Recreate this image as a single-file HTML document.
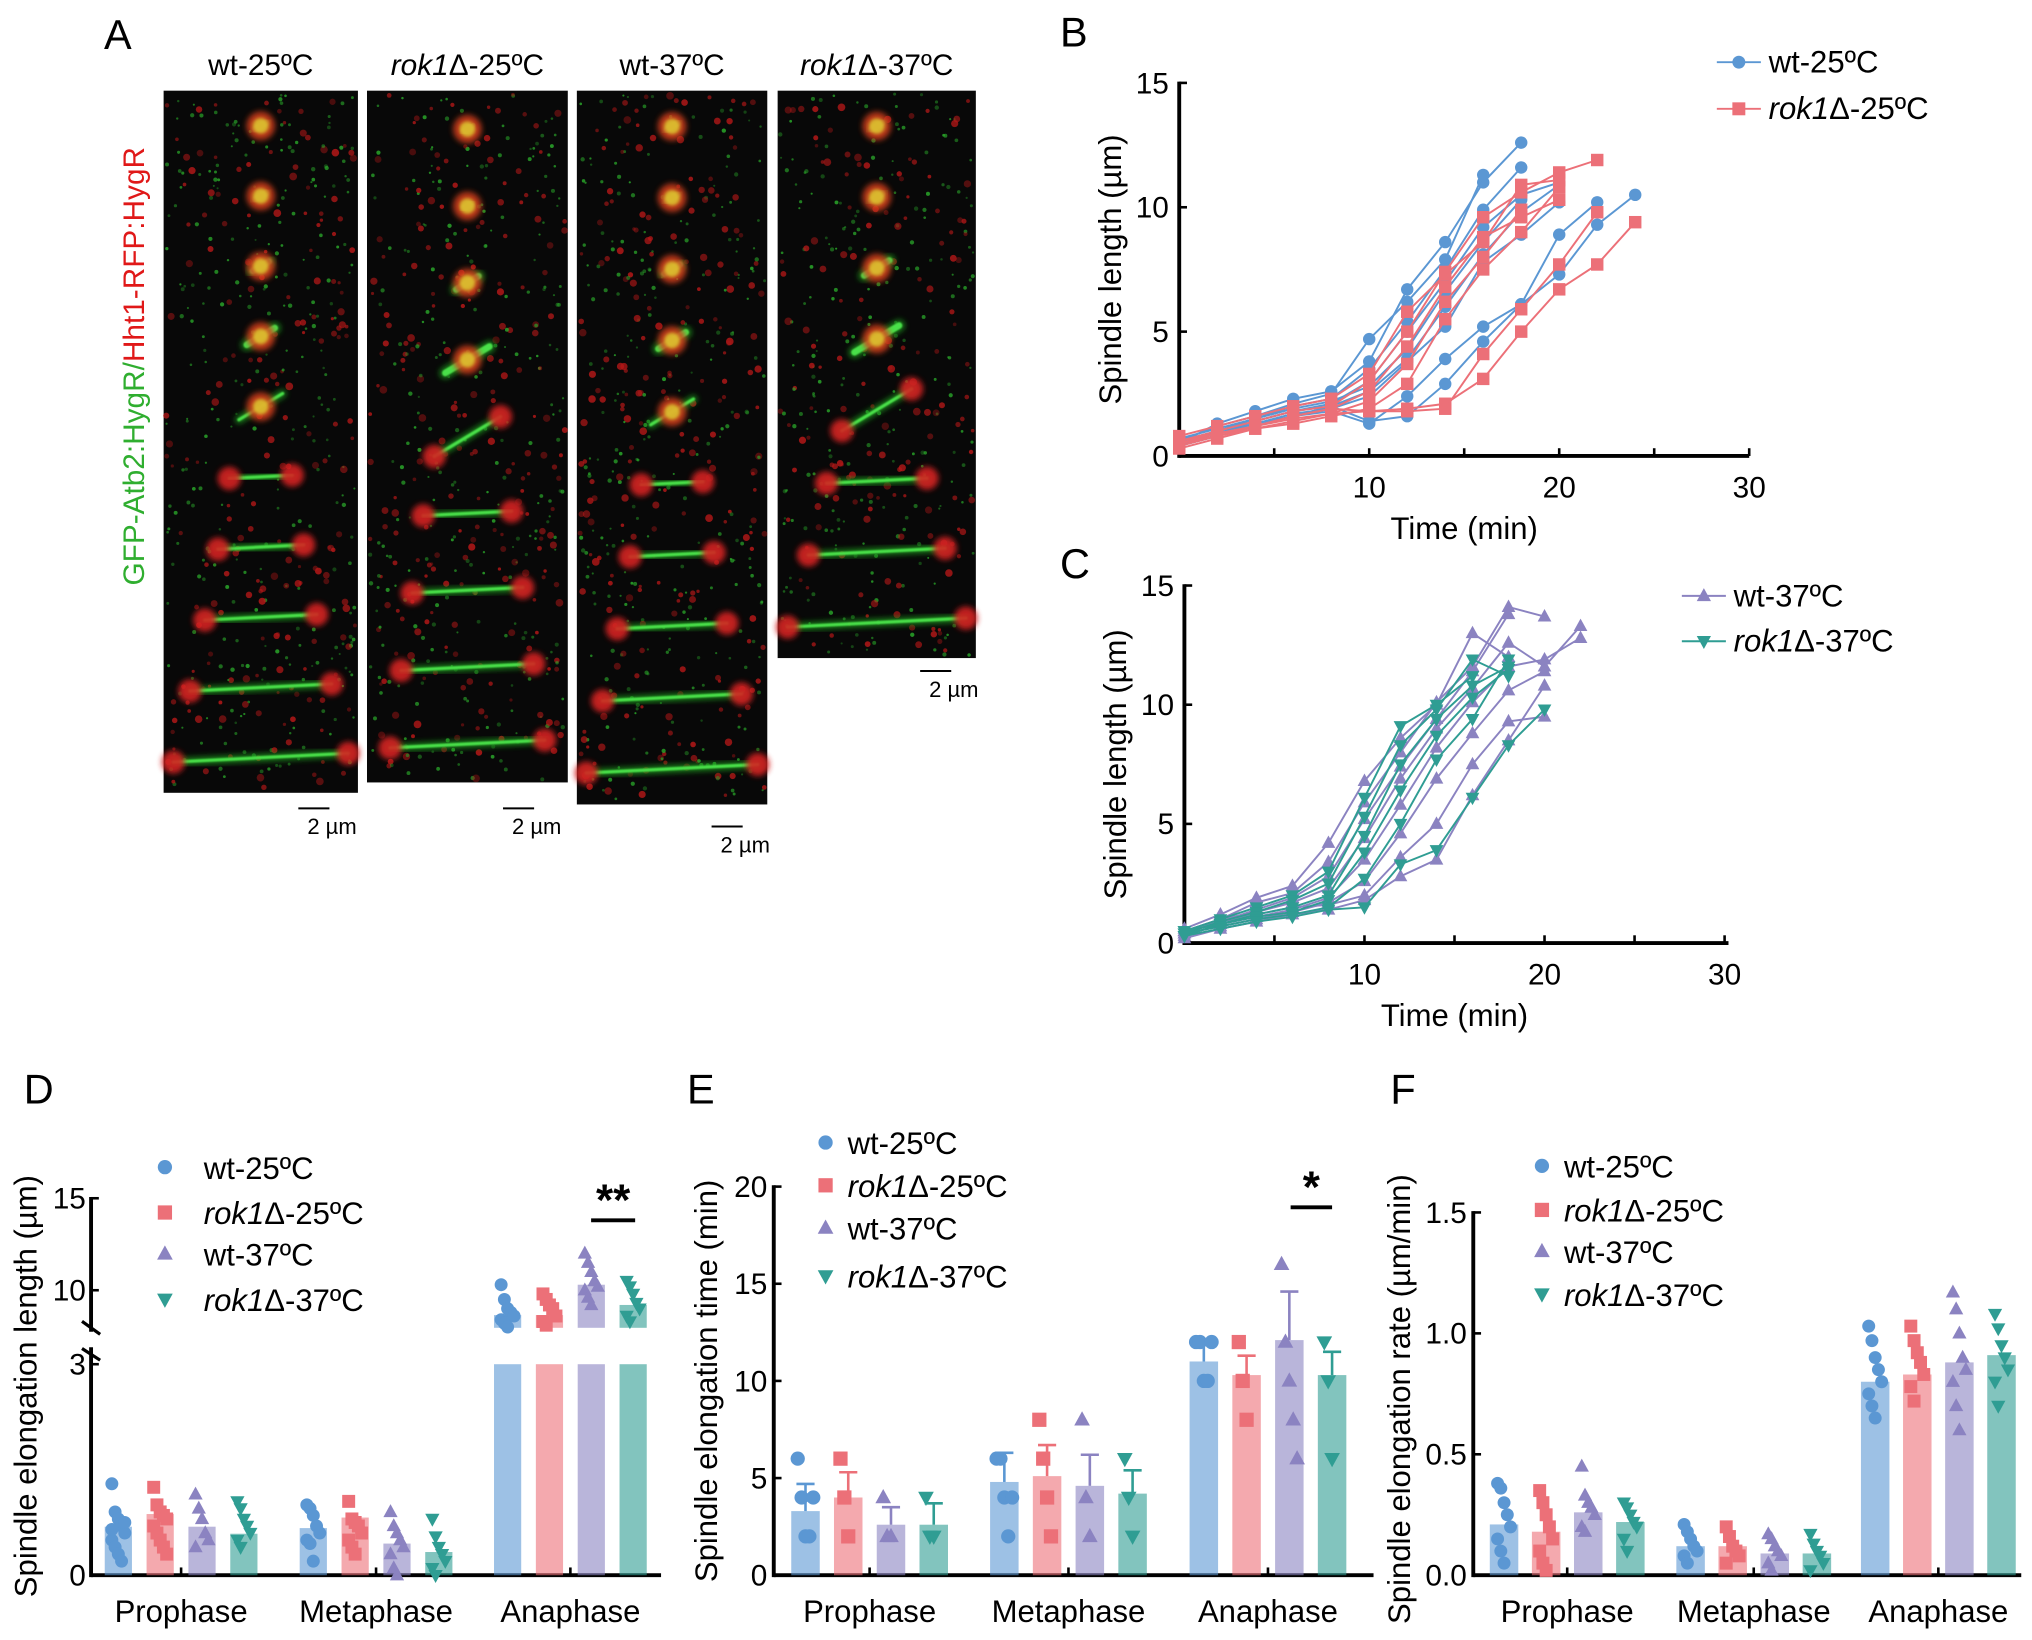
<!DOCTYPE html>
<html><head><meta charset="utf-8"><style>
html,body{margin:0;padding:0;background:#fff}
svg{display:block;font-family:"Liberation Sans",Arial,sans-serif}
</style></head><body>
<svg id="fig" xmlns="http://www.w3.org/2000/svg" width="2032" height="1640" viewBox="0 0 1568 1266">
<defs><filter id="blur" x="-50%" y="-50%" width="200%" height="200%"><feGaussianBlur stdDeviation="2.2"/></filter>
<filter id="blur2" x="-50%" y="-50%" width="200%" height="200%"><feGaussianBlur stdDeviation="1.2"/></filter>
<filter id="blur3" x="-50%" y="-50%" width="200%" height="200%"><feGaussianBlur stdDeviation="0.7"/></filter></defs>
<g id="panelA"></g>
<g id="panelB"></g>
<g id="panelC"></g>
<g id="panelD"></g>
<g id="panelE"></g>
<g id="panelF"></g>
</svg>
<script>
// ---- data ----
const colors=["#5b97d3","#ec7078","#8b83c1","#2f9d93"];
const groupNames=["wt-25ºC","rok1Δ-25ºC","wt-37ºC","rok1Δ-37ºC"];
const phases=["Prophase","Metaphase","Anaphase"];
// B: wt-25 (blue), rok1-25 (red); sampled every 2 min
const bBlue=[[0.5,1.3,1.8,2.3,2.6,3.8,6.7,8.6,11.0,12.6],[0.6,1.2,1.6,2.1,2.5,4.7,6.2,7.9,11.3],[0.4,1.0,1.5,2.0,2.3,3.5,5.4,7.5,9.9,11.6],[0.5,0.9,1.4,1.8,2.1,3.0,5.0,7.0,9.2,10.5,11.0],[0.7,1.1,1.5,1.9,2.2,2.8,4.3,6.6,8.6,10.3],[0.4,0.8,1.2,1.6,2.0,2.6,3.9,6.0,8.1,9.8,10.9],[0.5,0.9,1.3,1.7,1.9,2.4,3.8,5.2,7.8,8.9,10.2],[0.6,1.0,1.4,1.8,2.0,1.4,1.6,2.9,4.6,6.1,7.3,9.3,10.5],[0.5,0.9,1.3,1.6,1.8,1.3,2.4,3.9,5.2,6.1,8.9,10.2]];
const bRed=[[0.8,1.2,1.6,2.0,2.3,3.3,5.8,7.3,8.6,10.9,11.1],[0.6,1.0,1.4,1.8,2.0,3.0,5.0,7.4,9.6,10.6,11.4,11.9],[0.4,0.8,1.2,1.6,1.9,2.6,4.4,6.8,8.8,9.6,10.3],[0.5,0.9,1.2,1.5,1.7,2.2,3.7,6.2,8.0,9.9],[0.3,0.7,1.1,1.3,1.6,1.9,2.9,5.5,7.5,9.0,10.8],[0.5,0.8,1.1,1.4,1.7,1.8,1.9,2.1,3.1,5.0,6.7,7.7,9.4],[0.6,0.9,1.2,1.6,1.9,1.8,1.8,1.9,4.1,5.9,7.7,9.8]];
// C: wt-37 (purple), rok1-37 (teal)
const cPurple=[[0.6,1.2,1.9,2.4,4.2,6.8,8.6,10.0,13.0,12.0],[0.5,1.0,1.7,2.1,3.4,5.9,8.0,10.1,11.6,14.1,13.7],[0.4,0.9,1.4,1.9,2.8,5.2,7.4,9.4,11.4,13.8],[0.5,1.0,1.3,1.7,2.3,4.4,6.9,9.0,10.7,12.6,11.6,13.3],[0.3,0.8,1.1,1.4,1.9,3.5,5.8,8.2,10.1,11.6,11.9,12.8],[0.4,0.7,1.0,1.3,1.7,2.6,4.6,6.9,8.8,10.6,11.4],[0.5,0.9,1.2,1.5,1.6,2.0,3.6,5.0,7.5,9.3,9.5],[0.2,0.6,0.9,1.2,1.4,1.8,2.8,3.5,6.2,8.5,10.8]];
const cTeal=[[0.5,1.0,1.5,2.0,3.0,6.1,9.1,10.0,11.2],[0.4,0.9,1.3,1.8,2.5,5.3,8.3,9.8,11.9,11.2],[0.3,0.8,1.2,1.5,2.0,4.5,7.5,9.4,10.8,11.6],[0.5,0.8,1.1,1.3,1.8,3.8,6.4,8.7,10.3,11.5],[0.4,0.7,1.0,1.2,1.5,2.7,5.0,7.7,9.4,11.9],[0.3,0.6,0.9,1.1,1.4,1.5,3.3,3.9,6.1,8.3,9.8]];
// D means [phase][group]
const dMeans=[[0.69,0.87,0.69,0.59],[0.67,0.82,0.45,0.33],[8.65,8.65,10.3,9.2]];
const dPoints=[[[1.3,0.9,0.8,0.7,0.6,0.5,0.4,0.3,0.2,0.75,0.65],[1.25,1.0,0.9,0.85,0.8,0.7,0.6,0.5,0.4,0.3],[1.15,0.95,0.8,0.6,0.5,0.4],[1.05,0.95,0.8,0.7,0.6,0.5,0.4]],
[[1.0,0.95,0.85,0.7,0.6,0.5,0.45,0.2],[1.05,0.8,0.75,0.7,0.6,0.5,0.4,0.3],[0.9,0.7,0.6,0.5,0.4,0.3,0.1,0.0],[0.8,0.55,0.4,0.3,0.2,0.1,0.0]],
[[10.3,9.5,9.0,8.8,8.6,8.4,8.2,8.0],[9.8,9.5,9.2,9.0,8.6,8.3,8.1],[12.0,11.5,11.0,10.5,10.2,10.0,9.6,9.2],[10.5,10.2,9.8,9.3,9.0,8.6,8.3]]];
// E
const eMeans=[[3.3,4.0,2.6,2.6],[4.8,5.1,4.6,4.2],[11.0,10.3,12.1,10.3]];
const eErr=[[1.4,1.3,0.9,1.1],[1.5,1.6,1.6,1.2],[0.9,1.0,2.5,1.2]];
const ePoints=[[[6,4,2,2,4],[6,4,2],[4,2,2],[4,2,2]],[[6,6,4,2,4],[8,6,4,2],[8,4,2],[6,4,2]],[[12,12,10,10,12],[12,10,8],[16,12,10,8,6],[12,10,6]]];
// F
const fMeans=[[0.21,0.18,0.26,0.22],[0.12,0.12,0.09,0.09],[0.80,0.83,0.88,0.91]];
const fPoints=[[[0.38,0.36,0.30,0.25,0.2,0.15,0.1,0.05],[0.35,0.3,0.25,0.2,0.15,0.1,0.05,0.02],[0.45,0.33,0.3,0.28,0.25,0.2,0.18],[0.3,0.28,0.25,0.22,0.2,0.15,0.1]],
[[0.21,0.18,0.15,0.12,0.1,0.08,0.05],[0.2,0.16,0.12,0.1,0.08,0.05],[0.17,0.15,0.12,0.1,0.08,0.05,0.02],[0.17,0.13,0.1,0.08,0.05,0.02]],
[[1.03,0.97,0.9,0.85,0.8,0.75,0.7,0.65],[1.03,0.97,0.92,0.88,0.83,0.78,0.72],[1.17,1.1,1.0,0.9,0.85,0.8,0.7,0.6],[1.08,1.02,0.95,0.9,0.85,0.8,0.7]]];
const timeTicks=[10,20,30];

const NS="http://www.w3.org/2000/svg";
function mk(parent,tag,attrs,text){const e=document.createElementNS(NS,tag);for(const k in attrs)e.setAttribute(k,attrs[k]);if(text!==undefined)e.textContent=text;parent.appendChild(e);return e;}
function marker(g,shape,x,y,s,color,op){
  let e;
  if(shape===0)e=mk(g,"circle",{cx:x,cy:y,r:s,fill:color});
  else if(shape===1)e=mk(g,"rect",{x:x-s,y:y-s,width:2*s,height:2*s,fill:color});
  else if(shape===2)e=mk(g,"polygon",{points:`${x},${y-s*1.2} ${x-s*1.1},${y+s*0.8} ${x+s*1.1},${y+s*0.8}`,fill:color});
  else e=mk(g,"polygon",{points:`${x},${y+s*1.2} ${x-s*1.1},${y-s*0.8} ${x+s*1.1},${y-s*0.8}`,fill:color});
  if(op)e.setAttribute("opacity",op);
  return e;
}
function legendLabel(g,x,y,name,size){
  const t=mk(g,"text",{x:x,y:y,"font-size":size});
  if(name.startsWith("rok1")){mk(t,"tspan",{"font-style":"italic"},"rok1");mk(t,"tspan",{},name.slice(4));}
  else t.textContent=name;
  return t;
}
// ---- Panel A (decorative micrographs) ----
(function(){
  let seed=12345;
  const rnd=()=>{seed=(seed*1103515245+12345)%2147483648;return seed/2147483648;};
  const g=document.getElementById("panelA");
  const L=mk(g,"text",{x:80,y:38,"font-size":32});L.textContent="A";
  
  
  const vl=mk(g,"text",{transform:"translate(111,452) rotate(-90)","font-size":23});
  mk(vl,"tspan",{fill:"#2fae2f"},"GFP-Atb2:HygR/");mk(vl,"tspan",{fill:"#e01818"},"Hht1-RFP:HygR");
  
  
  const cols=[{x:126,w:150,y:70,h:542,n:10,lab:"wt-25ºC",sb:[242,624]},{x:283,w:155,y:70,h:534,n:9,lab:"rok1Δ-25ºC",sb:[400,624]},{x:445,w:147,y:70,h:551,n:10,lab:"wt-37ºC",sb:[561,638]},{x:600,w:153,y:70,h:438,n:8,lab:"rok1Δ-37ºC",sb:[722,518]}];
  cols.forEach((c,ci)=>{
    const cg=mk(g,"g",{});
    
    
    mk(cg,"rect",{x:c.x,y:c.y,width:c.w,height:c.h,fill:"#080808"});
    // speckle noise
    for(let k=0;k<Math.round(c.h*0.9);k++){
      const px=c.x+2+rnd()*(c.w-4), py=c.y+2+rnd()*(c.h-4);
      const red=rnd()<0.45;
      mk(cg,"circle",{cx:px,cy:py,r:red?1.2+rnd()*1.8:0.8+rnd()*0.9,fill:red?"#b51818":"#2aa82a",opacity:0.35+rnd()*0.5});
    }
    const cx=c.x+c.w/2, rh=c.h/c.n;
    for(let i=0;i<c.n;i++){
      const y=c.y+rh*(i+0.5);
      const frac=(i+1)/c.n;
      const len=ci===1?Math.max(6,(i-1)*c.w*0.11):Math.max(8,frac*frac*c.w*0.9);
      const tilt=(i<5?-0.6:-0.05)*len*0.5;
      mk(cg,"line",{x1:cx-len/2,y1:y-tilt,x2:cx+len/2,y2:y+tilt,stroke:"#1f9a1f","stroke-width":i<4?9:6,filter:"url(#blur)","stroke-linecap":"round",opacity:0.8});
      mk(cg,"line",{x1:cx-len/2,y1:y-tilt,x2:cx+len/2,y2:y+tilt,stroke:"#48e048","stroke-width":i<4?5:2.5,filter:"url(#blur3)","stroke-linecap":"round"});
      if(len<40){mk(cg,"circle",{cx:cx,cy:y,r:11,fill:"#d8401c",filter:"url(#blur)",opacity:0.85});
        mk(cg,"circle",{cx:cx,cy:y,r:6,fill:"#e0d030",filter:"url(#blur2)",opacity:0.8});}
      else{[-1,1].forEach(sg=>{mk(cg,"circle",{cx:cx+sg*len/2,cy:y+sg*tilt,r:9,fill:"#d42020",filter:"url(#blur)",opacity:0.9});});}
    }
    const lab=legendLabel(g,cx,58,c.lab,23);lab.setAttribute("text-anchor","middle");
    
    
    mk(g,"line",{x1:c.sb[0]-12,y1:c.sb[1],x2:c.sb[0]+12,y2:c.sb[1],stroke:"#000","stroke-width":1.5});
    const sb=mk(g,"text",{x:c.sb[0]+14,y:c.sb[1]+20,"font-size":17,"text-anchor":"middle"},"2 µm");
    
    
  });
})();
// ---- Line panels ----
function linePanel(id,letter,lx,ly,ox,oy,xw,yh,axisEnd,series,legY){
  const g=document.getElementById(id);
  const X=t=>ox+t/30*xw, Y=v=>oy-v/15*yh;
  const L=mk(g,"text",{x:lx,y:ly,"font-size":32},letter);
  
  
  const ax=mk(g,"g",{});
  
  
  mk(ax,"line",{x1:ox,y1:oy,x2:axisEnd,y2:oy,stroke:"#000","stroke-width":3});
  mk(ax,"line",{x1:ox,y1:oy+1.5,x2:ox,y2:Y(15)-1,stroke:"#000","stroke-width":3});
  [5,10,15,20,25,30].forEach(t=>mk(ax,"line",{x1:X(t),y1:oy,x2:X(t),y2:oy-6,stroke:"#000","stroke-width":2}));
  [0,5,10,15].forEach(v=>{mk(ax,"line",{x1:ox,y1:Y(v),x2:ox+6,y2:Y(v),stroke:"#000","stroke-width":2});
    const t=mk(ax,"text",{x:ox-8,y:Y(v)+8,"font-size":23,"text-anchor":"end"},v);
    
    });
  timeTicks.forEach(v=>{const t=mk(ax,"text",{x:X(v),y:oy+32,"font-size":23,"text-anchor":"middle"},v);
    
    });
  const xt=mk(ax,"text",{x:(ox+X(30))/2,y:oy+64,"font-size":24,"text-anchor":"middle"},"Time (min)");
  
  
  const yt=mk(ax,"text",{transform:`translate(${ox-45},${Y(7.5)}) rotate(-90)`,"font-size":24,"text-anchor":"middle"},"Spindle length (µm)");
  
  
  series.forEach((s,si)=>{
    const sg=mk(g,"g",{});
    
    
    s.data.forEach(tr=>{
      const pts=tr.map((v,i)=>X(i*2)+","+Y(v)).join(" ");
      const pl=mk(sg,"polyline",{points:pts,fill:"none",stroke:s.color,"stroke-width":1.5});
      
      
      tr.forEach((v,i)=>{const m=marker(sg,s.shape,X(i*2),Y(v),4.8,s.color);
        
        });
    });
    const lg=mk(g,"g",{});
    
    
    const lxx=s.legX;
    mk(lg,"line",{x1:lxx,y1:legY[si],x2:lxx+34,y2:legY[si],stroke:s.color,"stroke-width":1.5});
    marker(lg,s.shape,lxx+17,legY[si],5,s.color);
    legendLabel(lg,lxx+40,legY[si]+8,s.name,24);
  });
}
linePanel("panelB","B",818,36,910,352,440,288,1350,[{name:groupNames[0],data:bBlue,color:colors[0],shape:0,legX:1325},{name:groupNames[1],data:bRed,color:colors[1],shape:1,legX:1325}],[48,84]);
linePanel("panelC","C",818,446,914,728,417,276,1334,[{name:groupNames[2],data:cPurple,color:colors[2],shape:2,legX:1298},{name:groupNames[3],data:cTeal,color:colors[3],shape:3,legX:1298}],[460,495]);
// ---- Bar panels ----
function barPanel(opt){
  const g=document.getElementById(opt.id);
  const L=mk(g,"text",{x:opt.lx,y:opt.ly,"font-size":32},opt.letter);
  
  
  const ax=mk(g,"g",{});
  
  
  const ox=opt.ox, oy=opt.oy, Y=opt.Y;
  mk(ax,"line",{x1:ox,y1:oy,x2:opt.xEnd,y2:oy,stroke:"#000","stroke-width":3});
  opt.drawYAxis(ax);
  phases.forEach((p,pi)=>{
    const t=mk(ax,"text",{x:opt.phaseX[pi],y:oy+36,"font-size":24,"text-anchor":"middle"},p);
    
    
    mk(ax,"line",{x1:opt.phaseX[pi],y1:oy,x2:opt.phaseX[pi],y2:oy-6,stroke:"#000","stroke-width":2});
  });
  const yt=mk(ax,"text",{transform:`translate(${opt.ytx},${opt.yty}) rotate(-90)`,"font-size":24,"text-anchor":"middle"},opt.ytitle);
  
  
  phases.forEach((p,pi)=>{
    for(let gi=0;gi<4;gi++){
      const cx=opt.phaseX[pi]+(gi-1.5)*opt.step;
      const bg=mk(g,"g",{});
      
      
      opt.drawBar(bg,cx,pi,gi);
      if(opt.err){const m=opt.means[pi][gi],e=opt.err[pi][gi];
        mk(bg,"line",{x1:cx,y1:Y(m),x2:cx,y2:Y(m+e),stroke:colors[gi],"stroke-width":2});
        mk(bg,"line",{x1:cx-7,y1:Y(m+e),x2:cx+7,y2:Y(m+e),stroke:colors[gi],"stroke-width":2});}
      opt.points[pi][gi].forEach((v,k)=>{const off=((k%5)-2)*opt.jit;
        const m=marker(bg,gi,cx+off,opt.PY?opt.PY(pi,v):Y(v),opt.ms,colors[gi]);
        
        });
    }
  });
  groupNames.forEach((n,gi)=>{
    const lg=mk(g,"g",{});
    
    
    marker(lg,gi,opt.legX,opt.legY[gi],5.5,colors[gi]);
    legendLabel(lg,opt.legX+opt.legGap,opt.legY[gi]+9,n,24);
  });
  const sg=mk(g,"g",{});
  
  
  mk(sg,"line",{x1:opt.sig[0],y1:opt.sig[2],x2:opt.sig[1],y2:opt.sig[2],stroke:"#000","stroke-width":3});
  mk(sg,"text",{x:(opt.sig[0]+opt.sig[1])/2,y:opt.sig[2]-4,"font-size":34,"font-weight":"bold","text-anchor":"middle"},opt.sig[3]);
}
// D: broken axis
(function(){
  const oy=1216, low=v=>oy-v*54.3, up=v=>996-(v-10)*14.2;
  const Yd=v=>v<=3?low(v):up(v);
  barPanel({id:"panelD",letter:"D",lx:18,ly:852,ox:70,oy:oy,xEnd:510,Y:Yd,
    PY:(pi,v)=>pi===2?up(v):low(v),
    drawYAxis:ax=>{
      mk(ax,"line",{x1:70,y1:oy+1.5,x2:70,y2:1040,stroke:"#000","stroke-width":3});
      mk(ax,"line",{x1:70,y1:1028,x2:70,y2:up(15)-1,stroke:"#000","stroke-width":3});
      mk(ax,"line",{x1:63,y1:1041,x2:77,y2:1050,stroke:"#000","stroke-width":2.5});
      mk(ax,"line",{x1:63,y1:1020,x2:77,y2:1030,stroke:"#000","stroke-width":2.5});
      [[0,low(0)],[3,low(3)],[10,up(10)],[15,up(15)]].forEach(([v,y])=>{
        mk(ax,"line",{x1:70,y1:y,x2:76,y2:y,stroke:"#000","stroke-width":2});
        const t=mk(ax,"text",{x:66,y:y+8,"font-size":23,"text-anchor":"end"},v);
        
        });
    },
    drawBar:(bg,cx,pi,gi)=>{const m=dMeans[pi][gi];
      if(pi<2)mk(bg,"rect",{x:cx-10.5,y:low(m),width:21,height:oy-low(m),fill:colors[gi],opacity:0.6});
      else{mk(bg,"rect",{x:cx-10.5,y:low(3),width:21,height:oy-low(3),fill:colors[gi],opacity:0.6});
        mk(bg,"rect",{x:cx-10.5,y:up(m),width:21,height:1025-up(m),fill:colors[gi],opacity:0.6});}},
    means:dMeans,points:dPoints,phaseX:[139.5,290,440],step:32.3,jit:2.5,ms:5,
    ytx:28,yty:1070,ytitle:"Spindle elongation length (µm)",
    legX:127,legGap:30,legY:[901,936,968,1003],sig:[456,490,942,"**"]});
})();
(function(){
  const oy=1216,Y=v=>oy-v*15;
  barPanel({id:"panelE",letter:"E",lx:530,ly:852,ox:597,oy:oy,xEnd:1060,Y:Y,
    drawYAxis:ax=>{mk(ax,"line",{x1:597,y1:oy+1.5,x2:597,y2:Y(20)-1,stroke:"#000","stroke-width":3});
      [0,5,10,15,20].forEach(v=>{mk(ax,"line",{x1:597,y1:Y(v),x2:603,y2:Y(v),stroke:"#000","stroke-width":2});
        const t=mk(ax,"text",{x:592,y:Y(v)+8,"font-size":23,"text-anchor":"end"},v);
        
        });},
    drawBar:(bg,cx,pi,gi)=>{const m=eMeans[pi][gi];mk(bg,"rect",{x:cx-11,y:Y(m),width:22,height:oy-Y(m),fill:colors[gi],opacity:0.6});},
    means:eMeans,err:eErr,points:ePoints,phaseX:[671,824.5,978.5],step:33,jit:3,ms:5.5,
    ytx:553,yty:1066,ytitle:"Spindle elongation time (min)",
    legX:637,legGap:17,legY:[882,915,948,985],sig:[996,1028,932,"*"]});
})();
(function(){
  const oy=1216,Y=v=>oy-v*186.7;
  barPanel({id:"panelF",letter:"F",lx:1073,ly:852,ox:1137,oy:oy,xEnd:1560,Y:Y,
    drawYAxis:ax=>{mk(ax,"line",{x1:1137,y1:oy+1.5,x2:1137,y2:Y(1.5)-1,stroke:"#000","stroke-width":3});
      [0,0.5,1.0,1.5].forEach(v=>{mk(ax,"line",{x1:1137,y1:Y(v),x2:1143,y2:Y(v),stroke:"#000","stroke-width":2});
        const t=mk(ax,"text",{x:1132,y:Y(v)+8,"font-size":23,"text-anchor":"end"},v.toFixed(1));
        
        });},
    drawBar:(bg,cx,pi,gi)=>{const m=fMeans[pi][gi];mk(bg,"rect",{x:cx-11,y:Y(m),width:22,height:oy-Y(m),fill:colors[gi],opacity:0.6});},
    means:fMeans,points:fPoints,phaseX:[1209.5,1353.5,1496],step:32.5,jit:2.5,ms:5,
    ytx:1088,yty:1080,ytitle:"Spindle elongation rate (µm/min)",
    legX:1190,legGap:17,legY:[900,934,966,999],sig:[0,0,-100,""]});
})();
</script>
</body></html>
